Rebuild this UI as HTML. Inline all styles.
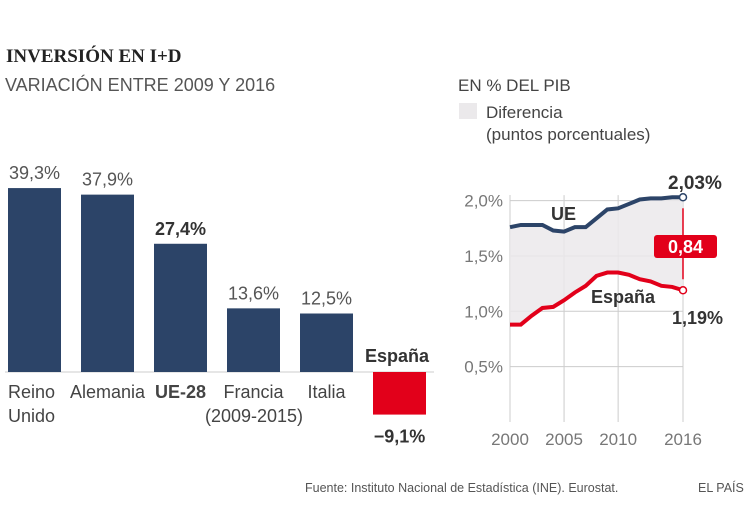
<!DOCTYPE html>
<html><head><meta charset="utf-8"><style>
body{margin:0;background:#fff;width:750px;height:515px;overflow:hidden;font-family:"Liberation Sans",sans-serif}
svg text{font-family:"Liberation Sans",sans-serif}
</style></head><body>
<svg id="c" width="750" height="515" xmlns="http://www.w3.org/2000/svg">
<text x="6" y="62" font-family="Liberation Serif" font-weight="bold" font-size="19" fill="#222" style="font-family:'Liberation Serif',serif">INVERSIÓN EN I+D</text>
<text x="5" y="91" font-size="18" fill="#555">VARIACIÓN ENTRE 2009 Y 2016</text>
<text x="458" y="91" font-size="17" fill="#444">EN % DEL PIB</text>
<rect x="459" y="103" width="18" height="16" fill="#ebe9eb"/>
<text x="486" y="118" font-size="17" fill="#444">Diferencia</text>
<text x="486" y="140" font-size="17" fill="#444">(puntos porcentuales)</text>
<text x="305" y="492" font-size="12.5" fill="#555">Fuente: Instituto Nacional de Estadística (INE). Eurostat.</text>
<text x="698" y="492" font-size="12.5" fill="#555">EL PAÍS</text>
<g id="bars"></g>
<g id="lines"></g>
</svg>
<script>
const barCats=[["Reino","Unido"],["Alemania"],["UE-28"],["Francia","(2009-2015)"],["Italia"],[""]];
const barValues=[39.3,37.9,27.4,13.6,12.5,-9.1];
const barLabels=["39,3%","37,9%","27,4%","13,6%","12,5%","−9,1%"];
const years=[2000,2001,2002,2003,2004,2005,2006,2007,2008,2009,2010,2011,2012,2013,2014,2015,2016];
const ueValues=[1.76,1.78,1.78,1.78,1.73,1.72,1.76,1.76,1.84,1.92,1.93,1.97,2.01,2.02,2.02,2.03,2.03];
const esValues=[0.88,0.88,0.96,1.03,1.04,1.10,1.17,1.23,1.32,1.35,1.35,1.33,1.29,1.27,1.23,1.22,1.19];
const yTicks=[0.5,1.0,1.5,2.0];
const yTickLabels=["0,5%","1,0%","1,5%","2,0%"];
const xTicks=[2000,2005,2010,2016];

const NS="http://www.w3.org/2000/svg";
function mk(p,t,a,txt){const e=document.createElementNS(NS,t);for(const k in a)e.setAttribute(k,a[k]);if(txt!==undefined)e.textContent=txt;p.appendChild(e);return e;}
const bars=document.getElementById('bars');
const base=372, scale=4.68;
const bx=i=>8+i*73;
const by=v=>base-v*scale;
mk(bars,'line',{x1:5,x2:434,y1:base,y2:base,stroke:'#ccc','stroke-width':1});
barValues.forEach((v,i)=>{
  const r=mk(bars,'rect',{x:bx(i),width:53,y:Math.min(by(v),base),height:Math.abs(v*scale),fill:v<0?'#e2001a':'#2c4468'});
  
  
  const bold=i==2||i==5;
  const t=mk(bars,'text',{x:bx(i)+26.5,y:v<0?by(v)+28:by(v)-9,'text-anchor':'middle','font-size':18,fill:bold?'#333':'#555','font-weight':bold?'bold':'normal'},barLabels[i]);
  
  
  barCats[i].forEach((c,j)=>{
    if(!c)return;
    const tx=(i==0&&j==1)?8:(i==0?8:bx(i)+26.5);
    const l=mk(bars,'text',{x:i==0?8:(i==3&&j==1?bx(i)+27:bx(i)+26.5),y:398+j*24,'text-anchor':i==0?'start':'middle','font-size':18,fill:'#444','font-weight':i==2?'bold':'normal'},c);
    
    
  });
});
const esl=mk(bars,'text',{x:bx(5)+24,y:362,'text-anchor':'middle','font-size':18,'font-weight':'bold',fill:'#333'},'España');



const lg=document.getElementById('lines');
const X=y=>510+(y-2000)*10.8125;
const Y=v=>422-v*110.7;
for(const t of yTicks){mk(lg,'line',{x1:510,x2:683,y1:Y(t),y2:Y(t),stroke:'#ccc','stroke-width':1});}
yTicks.forEach((t,i)=>{const e=mk(lg,'text',{x:503,y:Y(t)+6,'text-anchor':'end','font-size':17,fill:'#777'},yTickLabels[i]);
});
xTicks.forEach(t=>{mk(lg,'line',{x1:X(t),x2:X(t),y1:Y(2.05),y2:Y(0),stroke:'#ccc','stroke-width':1});
const e=mk(lg,'text',{x:X(t),y:445,'text-anchor':'middle','font-size':17,fill:'#777'},t);
});
mk(lg,'line',{x1:510,x2:510,y1:Y(2.05),y2:Y(0),stroke:'#ccc'});
let area='M'+years.map((y,i)=>X(y)+','+Y(ueValues[i])).join(' L')+' L'+years.slice().reverse().map((y,i)=>X(y)+','+Y(esValues[years.length-1-i])).join(' L')+'Z';
const ar=mk(lg,'path',{d:area,fill:'#ebe9eb',opacity:0.85});

const ue=mk(lg,'polyline',{points:years.map((y,i)=>X(y)+','+Y(ueValues[i])).join(' '),fill:'none',stroke:'#2c4468','stroke-width':4});

const es=mk(lg,'polyline',{points:years.map((y,i)=>X(y)+','+Y(esValues[i])).join(' '),fill:'none',stroke:'#e2001a','stroke-width':4});

const n=years.length-1;
mk(lg,'line',{x1:X(2016),x2:X(2016),y1:Y(ueValues[n])+11,y2:Y(esValues[n])-11,stroke:'#e2001a','stroke-width':1.5});
mk(lg,'circle',{cx:X(2016),cy:Y(ueValues[n]),r:3.5,fill:'#fff',stroke:'#2c4468','stroke-width':1.5});
mk(lg,'circle',{cx:X(2016),cy:Y(esValues[n]),r:3.5,fill:'#fff',stroke:'#e2001a','stroke-width':1.5});
const bd=mk(lg,'rect',{x:654,y:235,width:63,height:23,rx:3,fill:'#e2001a'});

mk(lg,'text',{x:685.5,y:253,'text-anchor':'middle','font-size':18,'font-weight':'bold',fill:'#fff'},(ueValues[n]-esValues[n]).toFixed(2).replace('.',','));
const t1=mk(lg,'text',{x:668,y:189,'font-size':19,'font-weight':'bold',fill:'#333'},ueValues[n].toFixed(2).replace('.',',')+'%');

const t2=mk(lg,'text',{x:672,y:324,'font-size':18,'font-weight':'bold',fill:'#333'},esValues[n].toFixed(2).replace('.',',')+'%');

const t3=mk(lg,'text',{x:551,y:220,'font-size':18,'font-weight':'bold',fill:'#333'},'UE');

const t4=mk(lg,'text',{x:591,y:303,'font-size':18,'font-weight':'bold',fill:'#333'},'España');

</script>
</body></html>
